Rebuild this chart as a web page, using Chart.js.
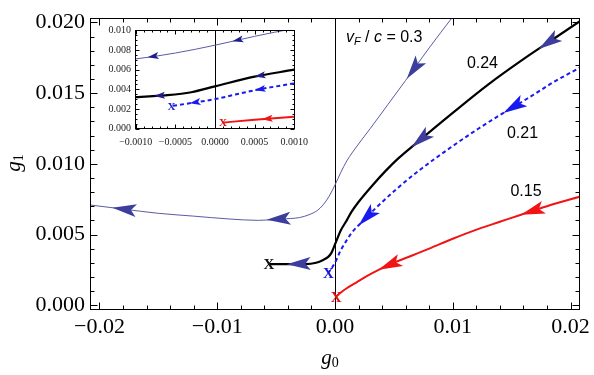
<!DOCTYPE html>
<html>
<head>
<meta charset="utf-8">
<script src="https://cdn.jsdelivr.net/npm/chart.js@4.4.1/dist/chart.umd.min.js"></script>
<style>
  html, body { margin: 0; padding: 0; background: #fff; }
  #wrap { position: relative; width: 594px; height: 375px; }
  #main { position: absolute; left: 0; top: 0; }
  #inset { position: absolute; left: 95px; top: 20px; }
</style>
</head>
<body>
<div id="wrap">
  <canvas id="main" width="594" height="375"></canvas>
  <canvas id="inset" width="220" height="135"></canvas>
</div>
<script>
// ---------- data (g0, g1) ----------
const G0_030 = [0.0100, 0.0080, 0.0060, 0.0045, 0.0030, 0.0020, 0.0010, 0.0005, 0.0000, -0.0005, -0.0010, -0.0015, -0.0022, -0.0030, -0.0045, -0.0065, -0.0090, -0.0120, -0.0150, -0.0180, -0.0209];
const G1_030 = [0.0204, 0.0182, 0.0159, 0.0142, 0.0125, 0.0114, 0.0102, 0.0094, 0.0085, 0.0077, 0.0071, 0.0067, 0.0064, 0.0062, 0.0061, 0.0060, 0.0061, 0.0063, 0.0065, 0.0068, 0.0071];

const G0_024 = [0.0210, 0.0185, 0.0160, 0.0130, 0.0100, 0.0071, 0.0054, 0.0043, 0.0031, 0.0020, 0.0014, 0.0010, 0.0005, 0.0000, -0.0003, -0.0006, -0.0010, -0.0016, -0.0025, -0.0040, -0.0056];
const G1_024 = [0.0202, 0.0188, 0.0174, 0.0156, 0.0136, 0.0116, 0.0104, 0.0095, 0.0084, 0.0073, 0.0066, 0.0060, 0.0053, 0.0043, 0.0037, 0.0034, 0.0032, 0.0030, 0.0029, 0.0029, 0.0029];

const G0_021 = [0.0210, 0.0184, 0.0167, 0.0145, 0.0122, 0.0099, 0.0071, 0.0052, 0.0035, 0.0023, 0.0014, 0.0010, 0.0005, 0.0000, -0.0003, -0.00055];
const G1_021 = [0.0169, 0.0157, 0.0148, 0.0137, 0.0125, 0.0112, 0.0095, 0.0082, 0.0069, 0.0059, 0.0051, 0.0046, 0.0039, 0.0030, 0.0026, 0.0023];

const G0_015 = [0.0209, 0.0180, 0.0158, 0.0140, 0.0122, 0.0100, 0.0080, 0.0065, 0.0050, 0.0037, 0.0027, 0.0018, 0.0010, 0.0005, 0.0001];
const G1_015 = [0.0077, 0.0070, 0.0064, 0.0059, 0.0054, 0.0047, 0.0040, 0.0035, 0.0030, 0.0025, 0.00205, 0.0016, 0.0012, 0.0009, 0.0006];

// arrow tips (g0 value along each curve, flow goes toward smaller g0)
const ARROWS_030 = [0.0061, -0.0058, -0.0189];
const ARROWS_024 = [0.0173, 0.0065, -0.0041];
const ARROWS_021 = [0.0143, 0.0020];
const ARROWS_015 = [0.0158, 0.0037];
const INSET_ARROWS_030 = [0.00022, -0.00085];
const INSET_ARROWS_024 = [0.0005, -0.00077];
const INSET_ARROWS_021 = [0.0005, -0.00032];
const INSET_ARROWS_015 = [0.00059];

// ticks
const X_TICKS = [-0.02, -0.01, 0, 0.01, 0.02];
const Y_TICKS = [0, 0.005, 0.010, 0.015, 0.020];
const INSET_X_TICKS = [-0.001, -0.0005, 0, 0.0005, 0.001];
const INSET_Y_TICKS = [0, 0.002, 0.004, 0.006, 0.008, 0.010];

// curve labels: anchor (g0, g1) for left/baseline
const LABEL_030 = { x: 0.00093, y: 0.0186 };
const LABEL_024 = { text: '0.24', x: 0.0112, y: 0.0168 };
const LABEL_021 = { text: '0.21', x: 0.0146, y: 0.0118 };
const LABEL_015 = { text: '0.15', x: 0.0149, y: 0.0077 };

// ---------- styling ----------
const SERIF = "'Liberation Serif', 'Times New Roman', serif";
const SANS = "'Liberation Sans', Arial, sans-serif";
const SLATE = '#3d3d9d';

const SERIES = [
  { xs: G0_030, ys: G1_030, color: '#5b5ba4', width: 1, dash: [], arrows: ARROWS_030, inArrows: INSET_ARROWS_030, head: SLATE, inHead: '#1e1e8c', mark: null },
  { xs: G0_024, ys: G1_024, color: '#000000', width: 2.2, dash: [], arrows: ARROWS_024, inArrows: INSET_ARROWS_024, head: SLATE, inHead: '#1e1e8c', mark: '#111111' },
  { xs: G0_021, ys: G1_021, color: '#1a1af0', width: 2, dash: [4, 3], arrows: ARROWS_021, inArrows: INSET_ARROWS_021, head: '#1a1af0', inHead: '#1a1af0', mark: '#1a1ad0' },
  { xs: G0_015, ys: G1_015, color: '#f01414', width: 2, dash: [], arrows: ARROWS_015, inArrows: INSET_ARROWS_015, head: '#f01414', inHead: '#f01414', mark: '#e01010' },
];

const pts = (xs, ys) => xs.map((x, i) => ({ x, y: ys[i] }));

function buildDatasets() {
  return SERIES.map(s => ({
    data: pts(s.xs, s.ys),
    showLine: true,
    borderColor: s.color,
    borderWidth: s.width,
    borderDash: s.dash,
    pointRadius: 0,
    cubicInterpolationMode: 'monotone',
    fill: false,
  }));
}

// ---------- drawing helpers ----------
function drawArrow(ctx, poly, xTip, len, w, color) {
  for (let i = 0; i < poly.length - 1; i++) {
    const a = poly[i], b = poly[i + 1];
    if (a.x === b.x || (a.x - xTip) * (b.x - xTip) > 0) continue;
    const t = (xTip - a.x) / (b.x - a.x);
    const tip = { x: a.x + t * (b.x - a.x), y: a.y + t * (b.y - a.y) };
    let rem = len, cur = tip, j = i, back = null;
    while (j >= 0) {
      const p = poly[j];
      const d = Math.hypot(cur.x - p.x, cur.y - p.y);
      if (d >= rem) { const f = rem / d; back = { x: cur.x + (p.x - cur.x) * f, y: cur.y + (p.y - cur.y) * f }; break; }
      rem -= d; cur = p; j--;
    }
    if (!back) back = poly[0];
    const dl = Math.hypot(tip.x - back.x, tip.y - back.y) || 1;
    const ux = (tip.x - back.x) / dl, uy = (tip.y - back.y) / dl;
    const nx = -uy, ny = ux;
    ctx.save();
    ctx.fillStyle = color;
    ctx.beginPath();
    ctx.moveTo(tip.x, tip.y);
    ctx.lineTo(tip.x - ux * len + nx * w, tip.y - uy * len + ny * w);
    ctx.lineTo(tip.x - ux * len * 0.78, tip.y - uy * len * 0.78);
    ctx.lineTo(tip.x - ux * len - nx * w, tip.y - uy * len - ny * w);
    ctx.closePath();
    ctx.fill();
    ctx.restore();
    return;
  }
}

function makeFramePlugin(cfg) {
  return {
    id: 'frame',
    beforeDatasetsDraw(chart) {
      const { ctx, chartArea: ca, scales: { x } } = chart;
      ctx.save();
      ctx.strokeStyle = '#000';
      ctx.lineWidth = 1;
      // vertical line g0 = 0
      const x0 = Math.round(x.getPixelForValue(0)) + 0.5;
      ctx.beginPath(); ctx.moveTo(x0, ca.top); ctx.lineTo(x0, ca.bottom); ctx.stroke();
      ctx.restore();
    },
    afterDatasetsDraw(chart) {
      const { ctx, chartArea: ca, scales: { x, y } } = chart;
      ctx.save();
      ctx.strokeStyle = '#000';
      ctx.lineWidth = 1;
      const L = Math.round(ca.left) + 0.5, R = Math.round(ca.right) - 0.5;
      const T = Math.round(ca.top) + 0.5, B = Math.round(ca.bottom) - 0.5;
      ctx.strokeRect(L, T, R - L, B - T);
      ctx.beginPath();
      const eps = 1e-9;
      for (let v = cfg.xMinorStart; v <= cfg.xMax + eps; v += cfg.xMinor) {
        const vv = Math.round(v / cfg.xMinor) * cfg.xMinor;
        if (vv < x.min || vv > x.max) continue;
        const major = Math.abs(vv / cfg.xMajor - Math.round(vv / cfg.xMajor)) < 1e-6;
        const len = major ? cfg.major : cfg.minor;
        const px = Math.round(x.getPixelForValue(vv)) + 0.5;
        ctx.moveTo(px, B); ctx.lineTo(px, B - len);
        ctx.moveTo(px, T); ctx.lineTo(px, T + len);
      }
      for (let v = cfg.yMinorStart; v <= cfg.yMax + eps; v += cfg.yMinor) {
        const vv = Math.round(v / cfg.yMinor) * cfg.yMinor;
        if (vv < y.min || vv > y.max) continue;
        const major = Math.abs(vv / cfg.yMajor - Math.round(vv / cfg.yMajor)) < 1e-6;
        const len = major ? cfg.major : cfg.minor;
        const py = Math.round(y.getPixelForValue(vv)) + 0.5;
        ctx.moveTo(L, py); ctx.lineTo(L + len, py);
        ctx.moveTo(R, py); ctx.lineTo(R - len, py);
      }
      ctx.stroke();

      // arrows and end markers
      chart.data.datasets.forEach((ds, di) => {
        const s = SERIES[di];
        const poly = chart.getDatasetMeta(di).data.map(p => ({ x: p.x, y: p.y }));
        const list = cfg.inset ? s.inArrows : s.arrows;
        ctx.save();
        ctx.beginPath(); ctx.rect(ca.left, ca.top, ca.width, ca.height); ctx.clip();
        list.forEach(v => drawArrow(ctx, poly, x.getPixelForValue(v), cfg.arrowLen, cfg.arrowW, cfg.inset ? s.inHead : s.head));
        ctx.restore();
        if (s.mark) {
          const last = poly[poly.length - 1];
          ctx.fillStyle = s.mark;
          ctx.font = cfg.markFont;
          ctx.textAlign = 'center';
          ctx.textBaseline = 'middle';
          ctx.fillText('X', last.x, last.y + 1);
        }
      });
      ctx.restore();
    },
  };
}

function drawSubscripted(ctx, base, sub, fontBase, fontSub, subDrop) {
  ctx.font = fontBase;
  const w1 = ctx.measureText(base).width;
  ctx.font = fontSub;
  const w2 = ctx.measureText(sub).width;
  const x0 = -(w1 + w2) / 2;
  ctx.font = fontBase;
  ctx.fillText(base, x0, 0);
  ctx.font = fontSub;
  ctx.fillText(sub, x0 + w1, subDrop);
}

const mainDecor = {
  id: 'mainDecor',
  afterDraw(chart) {
    const { ctx, scales: { x, y } } = chart;
    ctx.save();
    ctx.fillStyle = '#000';
    ctx.textAlign = 'left';
    ctx.textBaseline = 'alphabetic';
    // axis titles
    ctx.save();
    ctx.translate(330, 364);
    drawSubscripted(ctx, 'g', '0', `italic 21px ${SERIF}`, `14px ${SERIF}`, 3);
    ctx.restore();
    ctx.save();
    ctx.translate(20, 163);
    ctx.rotate(-Math.PI / 2);
    drawSubscripted(ctx, 'g', '1', `italic 21px ${SERIF}`, `14px ${SERIF}`, 3);
    ctx.restore();

    // v_F / c = 0.3
    let px = x.getPixelForValue(LABEL_030.x), py = y.getPixelForValue(LABEL_030.y);
    const parts = [
      ['v', `italic 16px ${SANS}`, 0],
      ['F', `italic 11px ${SANS}`, 3],
      [' / ', `16px ${SANS}`, 0],
      ['c', `italic 16px ${SANS}`, 0],
      [' = 0.3', `16px ${SANS}`, 0],
    ];
    parts.forEach(([t, f, dy]) => {
      ctx.font = f;
      ctx.fillText(t, px, py + dy);
      px += ctx.measureText(t).width;
    });
    ctx.font = `16px ${SANS}`;
    [LABEL_024, LABEL_021, LABEL_015].forEach(l => {
      ctx.fillText(l.text, x.getPixelForValue(l.x), y.getPixelForValue(l.y));
    });
    ctx.restore();
  },
};

function fixedAxis(size, horizontal) {
  return s => { if (horizontal) s.height = size; else s.width = size; };
}

// ---------- main chart ----------
new Chart(document.getElementById('main').getContext('2d'), {
  type: 'scatter',
  data: { datasets: buildDatasets() },
  options: {
    responsive: false,
    animation: false,
    devicePixelRatio: 1,
    layout: { padding: { left: 0, right: 12, top: 8, bottom: 0 } },
    plugins: { legend: { display: false }, tooltip: { enabled: false } },
    scales: {
      x: {
        type: 'linear', min: -0.0208, max: 0.0208,
        afterBuildTicks: s => { s.ticks = X_TICKS.map(v => ({ value: v })); },
        afterFit: fixedAxis(65, true),
        grid: { display: false, drawTicks: false },
        border: { display: false },
        ticks: {
          autoSkip: false, maxRotation: 0, padding: 4, color: '#000',
          font: { family: SERIF, size: 22 },
          callback: v => (v < 0 ? '\u2212' : '') + Math.abs(v).toFixed(2),
        },
      },
      y: {
        type: 'linear', min: -0.00034, max: 0.0203,
        afterBuildTicks: s => { s.ticks = Y_TICKS.map(v => ({ value: v })); },
        afterFit: fixedAxis(90, false),
        grid: { display: false, drawTicks: false },
        border: { display: false },
        ticks: {
          autoSkip: false, padding: 5, color: '#000',
          font: { family: SERIF, size: 22 },
          callback: v => v.toFixed(3),
        },
      },
    },
  },
  plugins: [
    makeFramePlugin({
      inset: false, major: 7, minor: 4,
      xMinorStart: -0.022, xMax: 0.022, xMinor: 0.002, xMajor: 0.01,
      yMinorStart: 0, yMax: 0.021, yMinor: 0.001, yMajor: 0.005,
      arrowLen: 24, arrowW: 6.5, markFont: `bold 15px ${SERIF}`,
    }),
    mainDecor,
  ],
});

// ---------- inset ----------
new Chart(document.getElementById('inset').getContext('2d'), {
  type: 'scatter',
  data: { datasets: buildDatasets() },
  options: {
    responsive: false,
    animation: false,
    devicePixelRatio: 1,
    layout: { padding: { left: 0, right: 13, top: 10, bottom: 0 } },
    plugins: { legend: { display: false }, tooltip: { enabled: false } },
    scales: {
      x: {
        type: 'linear', min: -0.00101, max: 0.00101,
        afterBuildTicks: s => { s.ticks = INSET_X_TICKS.map(v => ({ value: v })); },
        afterFit: fixedAxis(26, true),
        grid: { display: false, drawTicks: false },
        border: { display: false },
        ticks: {
          autoSkip: false, maxRotation: 0, padding: 7, color: '#222',
          font: { family: SERIF, size: 10 },
          callback: v => (v < 0 ? '\u2212' : '') + Math.abs(v).toFixed(4),
        },
      },
      y: {
        type: 'linear', min: -0.00005, max: 0.01005,
        afterBuildTicks: s => { s.ticks = INSET_Y_TICKS.map(v => ({ value: v })); },
        afterFit: fixedAxis(40, false),
        grid: { display: false, drawTicks: false },
        border: { display: false },
        ticks: {
          autoSkip: false, padding: 4, color: '#222',
          font: { family: SERIF, size: 10 },
          callback: v => v.toFixed(3),
        },
      },
    },
  },
  plugins: [
    makeFramePlugin({
      inset: true, major: 4, minor: 2,
      xMinorStart: -0.0011, xMax: 0.0011, xMinor: 0.0001, xMajor: 0.0005,
      yMinorStart: 0, yMax: 0.0105, yMinor: 0.0005, yMajor: 0.002,
      arrowLen: 11, arrowW: 3.5, markFont: `bold 11px ${SERIF}`,
    }),
  ],
});
</script>
</body>
</html>
